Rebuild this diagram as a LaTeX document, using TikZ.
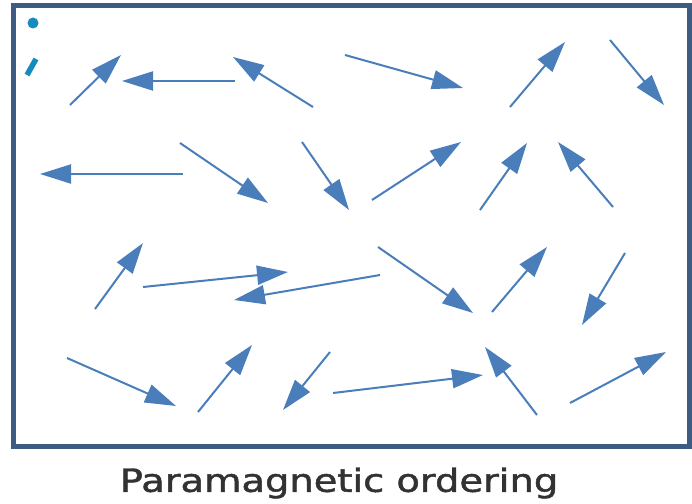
\documentclass[tikz,border=0pt]{standalone}
\usepackage{fontspec}
\setmainfont{DejaVu Sans}
\newfontfamily\capfont[FakeBold=1.4]{DejaVu Sans}
\usetikzlibrary{arrows.meta}
\definecolor{spinblue}{RGB}{74,126,187}
\definecolor{framec}{RGB}{62,92,130}
\definecolor{markc}{RGB}{22,140,190}
\definecolor{textc}{RGB}{50,50,50}
\tikzset{
  spin/.style={draw=spinblue, line width=2pt, -{Triangle[length=31pt,width=19pt]}},
  frame/.style={draw=framec, line width=5pt},
  caption/.style={text=textc, font=\capfont\fontsize{32}{36}\selectfont, inner sep=0pt, xscale=1.2}
}
\begin{document}
\begin{tikzpicture}[x=1pt,y=-1pt]
\useasboundingbox (0,0) rectangle (692,503);
\draw[frame] (13,6) rectangle (689,446);
% small marks top-left
\fill[markc] (33,23) circle (5.5pt);
\coordinate (m1) at (27,75);
\coordinate (m2) at (36,59);
\draw[markc, line width=5.5pt] (m1) -- (m2);
% spins: tail / head
\foreach \n/\tx/\ty/\hx/\hy in {
  1/70/105/121/55,
  2/235/81/122/81,
  3/313/107/233/57,
  4/183/174/40/174,
  5/180/143/268/203,
  6/302/142/349/210,
  7/345/55/463/88,
  8/510/107/565/42,
  9/610/40/664/105,
  10/372/200/461/142,
  11/480/210/527/143,
  12/613/207/558/142,
  13/95/309/143/243,
  14/143/287/288/272,
  15/380/275/234/300,
  16/67/358/176/406,
  17/198/412/252/345,
  18/330/352/283/410,
  19/333/393/483/375,
  20/378/247/473/313,
  21/492/312/547/247,
  22/625/253/582/325,
  23/537/415/485/347,
  24/570/403/666/352}{
  \coordinate (t\n) at (\tx,\ty);
  \coordinate (h\n) at (\hx,\hy);
  \draw[spin] (t\n) -- (h\n);
}
\node[caption] (cap) at (339,483) {Paramagnetic ordering};
\end{tikzpicture}
\end{document}
